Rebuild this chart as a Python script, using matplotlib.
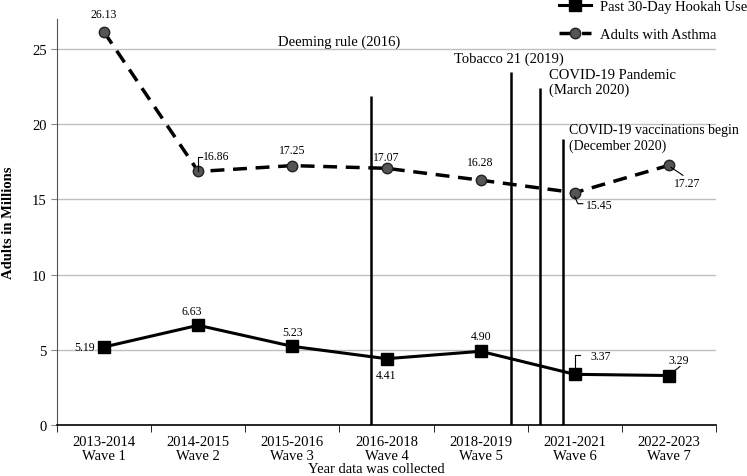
import numpy as np
import matplotlib
matplotlib.use('Agg')
import matplotlib.pyplot as plt

plt.rcParams['font.family'] = ['Liberation Serif', 'DejaVu Serif']

waves = ['2013-2014\nWave 1', '2014-2015\nWave 2', '2015-2016\nWave 3', '2016-2018\nWave 4',
         '2018-2019\nWave 5', '2021-2021\nWave 6', '2022-2023\nWave 7']
hookah = [5.19, 6.63, 5.23, 4.41, 4.90, 3.37, 3.29]
asthma = [26.13, 16.86, 17.25, 17.07, 16.28, 15.45, 17.27]

# policy events: x position (in wave units), line height, label
event_x = [2.84, 4.32, 4.63, 4.88]
event_top = [21.9, 23.5, 22.4, 19.05]
event_labels = ['Deeming rule (2016)', 'Tobacco 21 (2019)',
                'COVID-19 Pandemic\n(March 2020)', 'COVID-19 vaccinations begin\n(December 2020)']

x = np.arange(len(waves))

fig = plt.figure(figsize=(7.47, 4.77), dpi=100)
ax = fig.add_axes([57 / 747, 51 / 477, 659 / 747, 406 / 477])
ax.set_xlim(-0.5, 6.5)
ax.set_ylim(0, 27)

for y in [5, 10, 15, 20, 25]:
    ax.axhline(y, color='#bfbfbf', lw=1, zorder=0)

ax.vlines(event_x, 0, event_top, color='black', lw=1.8, zorder=2)

ax.plot(x, hookah, color='black', lw=2.2, marker='s', ms=9, mfc='black', mec='black',
        label='Past 30-Day Hookah Use', zorder=3)
ax.plot(x, asthma, color='black', lw=2.5, ls=(0, (4, 2.5)), marker='o', ms=7.5,
        mfc='#555555', mec='#222222', mew=1, label='Adults with Asthma', zorder=3)

# data labels (offsets in pixels)
asthma_off = [(0, 18), (5, 15), (0, 16), (0, 11), (0, 18), (11, -12), (18, -18)]
asthma_ha = ['center', 'left', 'center', 'center', 'center', 'left', 'center']
for i, v in enumerate(asthma):
    dx, dy = asthma_off[i]
    ax.annotate(f'{v:.2f}', (x[i], v), xytext=(dx, dy), textcoords='offset pixels',
                ha=asthma_ha[i], va='center', fontsize=8.5)

hookah_off = [(-9, 0), (-6, 14), (0, 14), (0, -16), (0, 15), (26, 18), (10, 16)]
hookah_ha = ['right', 'center', 'center', 'center', 'center', 'center', 'center']
for i, v in enumerate(hookah):
    dx, dy = hookah_off[i]
    ax.annotate(f'{v:.2f}', (x[i], v), xytext=(dx, dy), textcoords='offset pixels',
                ha=hookah_ha[i], va='center', fontsize=8.5)

# leader lines for a few labels
def leader(xi, yi, pts):
    tr = ax.transData
    px, py = tr.transform((xi, yi))
    xs, ys = [], []
    for dx, dy in pts:
        xd, yd = tr.inverted().transform((px + dx, py + dy))
        xs.append(xd)
        ys.append(yd)
    ax.plot(xs, ys, color='black', lw=0.8, zorder=4, clip_on=False)

leader(1, asthma[1], [(0, 0), (0, 14), (4, 14)])
leader(5, asthma[5], [(0, -4), (3, -11), (8, -11)])
leader(6, asthma[6], [(2, -2), (14, -10)])
leader(5, hookah[5], [(0, 5), (0, 19), (5, 19)])
leader(6, hookah[6], [(6, 5), (11, 9)])

# event labels
ax.text(2.5, 25.5, event_labels[0], ha='center', va='center', fontsize=10.5)
ax.text(4.3, 24.4, event_labels[1], ha='center', va='center', fontsize=10.5)
ax.text(4.73, 22.8, event_labels[2], ha='left', va='center', fontsize=10.5, linespacing=1.2)
ax.text(4.94, 19.1, event_labels[3], ha='left', va='center', fontsize=10, linespacing=1.25)

ax.set_yticks([0, 5, 10, 15, 20, 25])
ax.set_xticks(x)
ax.set_xticklabels(waves, fontsize=10.5, linespacing=1.1)
ax.set_xticks(np.arange(-0.5, 7, 1), minor=True)
ax.tick_params(axis='x', which='major', length=0, pad=7)
ax.tick_params(axis='x', which='minor', length=5, color='black', direction='out')
ax.tick_params(axis='y', labelsize=10.5, length=4, color='#888888')

for s in ['top', 'right']:
    ax.spines[s].set_visible(False)
ax.spines['left'].set_color('#555555')
ax.spines['bottom'].set_color('black')
ax.spines['bottom'].set_linewidth(1.2)

ax.set_ylabel('Adults in Millions', fontsize=10.5, fontweight='bold', labelpad=12)
fig.text(376 / 747, 1 - 470 / 477, 'Year data was collected', ha='center', va='center', fontsize=10.5)

fig.legend(loc='upper left', bbox_to_anchor=(553 / 747, 1.01), frameon=False, fontsize=10.5,
           handlelength=2.2, labelspacing=1.0, borderaxespad=0, handletextpad=0.6)

fig.savefig('out.png', dpi=100)
